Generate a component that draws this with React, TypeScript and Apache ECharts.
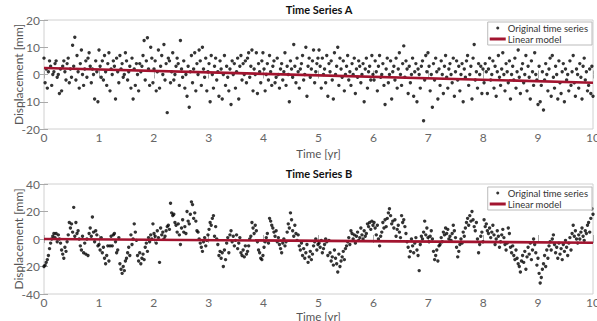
import React, { useEffect, useRef } from "react";
import * as echarts from "echarts";

// Tick values
const xTicks = [0, 1, 2, 3, 4, 5, 6, 7, 8, 9, 10];
const yTicksA = [-20, -10, 0, 10, 20];
const yTicksB = [-40, -20, 0, 20, 40];

// Time Series A displacement [mm], weekly samples over 10 years
const seriesA: number[] = [
  6, -3, 2, -5, 1, 5, 3, -4, 0, 1, 4, 5, -1, 0, -7, 2, -6, 3, 5, 1, -2, 4, 6, -3, 2, -1, 10.7, 3, 13.7, -2, 7, 1, -5, 4, 9, 0, -4, 2, 5, -1, 6, 8, 3, -3, 2, 0, -9, 5, 1, -10,
  9, 3, -1, 5, -2, 7, 1, -4, 4, 8, -6, 2, 0, 5, 3, -9, 6, 1, -3, 7, 2, 4, -1, 0, 8, 5, -2, 1, 3, -5, 6, -9, 2, -4, 4, 0, -6, 4, 1, 3, 7, 12.5, -2, 5, 13.5, 2, -4, 10, 6, -3,
  2, 5, -6, 1, 9, -5, 3, 7, 0, 11, -2, 4, -14, 6, 5, -3, 1, 8, -2, 0, 3, 6, 4, -4, 12.5, 2, -1, 5, -5, 0, -8, 3, -12, 1, 7, -3, 2, 8, -6, 4, 0, 9, 5, -4, 10, 2, -1, 6, -6, 1,
  4, -10, 7, 0, -5, 3, 6, -2, 1, -8, 5, 2, -9, 0, 7, -4, 3, -1, -6, 2, -11, 5, 0, 4, -5, 1, 6, -9, 3, 7, -2, 4, 0, 5, -3, 6, 8, -1, 3, 9, -6, 2, 0, 8, -7, 4, 1, -3, 5, 8,
  2, -6, 0, 4, -2, 7, 1, -4, 3, 5, -3, -1, 6, 0, -5, 2, 4, -2, 1, 8, -4, 3, 0, -10, 5, 2, -1, 11, 3, -3, 6, 1, -5, 2, 4, 7, -2, 0, 10, -8, 3, 6, -1, 2, 5, 9, -3, 1, 4, 6,
  9, 3, -5, 6, 0, 2, -3, 7, -8, 4, 1, 5, -2, -9, 8, 0, 3, 10, -4, 6, 2, -1, 5, -6, 0, 3, 7, -2, 1, -4, 4, 0, 6, -7, 2, -1, 5, 3, -3, 0, 4, -10, 2, 6, -5, 1, 3, -2, 7, 0,
  -2, 5, 1, -6, 3, 7, -1, 0, 4, -4, -11, 2, 6, -3, 0, 5, -9, 1, 3, -2, 6, -5, 2, 8, 0, -4, 4, 10.5, -1, 5, 2, -7, 3, -3, 0, 6, -8, 1, 4, -10, 2, 0, -5, 3, 5, -17, -2, 7, 1, 8,
  3, -6, 0, -12, 4, -2, 6, 1, -9, 2, -4, 5, 0, -7, 3, 7, -1, -5, 2, 4, 0, -3, 6, -8, 1, 5, -2, 3, -6, 0, 4, -10, 2, -1, 5, 7, -4, 0, 3, -9, 6, 11, -2, 1, -5, 4, 0, 3, -7, 2,
  -3, 4, 1, -7, 2, 6, -2, 0, 5, -5, 3, -8, 1, 7, -1, -4, 2, 8, 0, -6, 4, 1, -3, 5, -9, 0, 3, -2, 6, -5, 1, 9, -1, -7, 2, 4, -3, 0, 7, -6, 3, -1, -9, 5, 1, -4, 8, 0, -2, -11,
  3, -10, -4, 1, -13, -2, 4, 0, -6, 2, 6, -8, 7, -1, -5, 3, 0, -9, 5, -3, -7, 1, 4, -10, 2, -2, 0, -6, 5, -4, 1, 7, -3, -8, 2, 0, -5, 4, -1, -9, 3, 6, -2, 1, -6, -4, 2, -7, 3, -8,
];

// Time Series B displacement [mm]
const seriesB: number[] = [
  -20, -19, -17, -15, -12, -7, -3, 0, 2, 4, 1, 4, -2, 3, 0, -3, -8, -11, -14, -6, -9, -2, 3, 12, 8,
  11, 5, 23, 2, 12, 4, 6, 0, -5, -8, 2, -10, -3, -11, 0, -12, 4, 8, 2, 16, 5, -2, 6, 3, -5,
  -4, -8, 1, -10, -6, -14, -18, -12, -5, -16, -5, 2, -5, 3, 4, -2, -10, -8, 1, -18, -22, -25, -20, -23, -16,
  -14, -10, -6, -12, 3, -4, 0, 11, 5, -1, -12, -16, -10, -18, -14, -11, -15, -6, -3, -9, 1, -2, 3, 0, 11,
  4, 2, -3, 6, 1, -17, 8, 3, 5, 0, 2, 6, 9, 10, 7, 26, 19, 17, 18, 12, 10, 5, 11, 3, -4,
  8, 14, 5, 9, 4, 20, 13, 11, 18, 27, 25, 15, 19, 13, 6, 5, 0, -3, -6, -9, -2, 1, -5, -1, 3,
  7, 12, 10, 15, 17, 2, 9, 0, -4, -12, -9, -14, -10, -20, -8, -15, -3, 1, -10, 3, 6, -2, 2, -5, -1,
  3, -7, -3, 1, -10, -12, -8, -13, -5, -11, -9, -5, 0, 2, 12, 8, 4, 10, 6, -2, -8, -10, -14, -15, -12,
  -6, -2, 1, 4, -3, 15, 13, 10, 8, 5, 2, 6, -2, 1, -4, -7, -10, -3, 0, -5, -2, 5, 11, 8, 19,
  14, 6, 2, 10, 4, -1, 3, -5, -8, -3, -12, -7, -14, -10, -4, -17, -13, -9, -15, -11, -5, -2, 0, -8, -4,
  -3, -6, -1, -10, -7, -4, 0, -2, -12, -1, -10, -16, -13, -19, -8, -14, -18, -24, -11, -20, -16, -13, -9, -15, -7,
  -5, -2, 1, -4, 6, 4, 0, 3, -3, 2, 5, -1, 1, 8, 3, 0, 6, 2, 4, 11, 9, 12, 7, 13, 10,
  12, 8, 3, 10, 0, -5, 2, 5, 12, 8, 14, 9, 15, 19, 22, 17, 11, 13, 8, 14, 2, 7, 10, 5, 1,
  17, 12, 14, 9, 4, -2, -6, -13, -9, 0, -5, -10, -3, 1, -8, -12, -23, -4, 2, 0, 5, 13, 3, 8, 1,
  -2, 2, 6, 0, -9, -15, -12, -8, -16, -5, -4, 1, -2, 5, 3, 8, 4, 7, 0, 2, -1, 4, 10, 6, 1,
  -6, -13, -9, -4, 0, -3, 5, 2, 8, 12, 15, 10, 17, 13, 20, 14, 9, 6, 12, 0, -10, -4, 2, 5, -2,
  14, 9, 11, 6, 4, 8, 1, 5, 10, 3, -4, 0, 6, 2, -6, -2, 3, 7, 1, -4, -8, -3, 8, 4, -6,
  -10, -5, -12, -15, -8, -14, -18, -20, -24, -16, -12, -17, -9, -22, -13, -6, -11, -3, -15, -8, 0, -4, -10, -19, -14,
  -25, -32, -28, -22, -18, -12, -20, -8, -14, -5, -2, -8, 0, 3, -4, -10, -6, -14, -3, -11, -7, -15, -4, -9, -1,
  -6, -12, -3, 1, -8, 4, 10, 2, 6, 0, -3, 3, 0, 5, 8, 2, -1, 6, 4, 10, 12, 5, 15, 22, 18,
];

// Linear model end values at t = 0 and t = 10 yr
const modelTimes = [0, 10];
const modelA = [2.4, -3.0];
const modelB = [0.0, -2.7];

const SERIES_NAME = "Original time series";
const MODEL_NAME = "Linear model";
const RED = "#a2142f";
const FONT = "Lato";

function toPoints(values: number[]) {
  const n = values.length;
  return values.map((v, i) => [(i * 10) / (n - 1), v]);
}

export default function App() {
  const ref = useRef<HTMLDivElement>(null);

  useEffect(() => {
    if (!ref.current) return;
    const chart = echarts.init(ref.current, undefined, { renderer: "svg" });

    const grids = [
      { left: 44, top: 20, width: 549, height: 109 },
      { left: 44, top: 184, width: 549, height: 110 },
    ];
    const yMins = [yTicksA[0], yTicksB[0]];
    const yMaxs = [yTicksA[yTicksA.length - 1], yTicksB[yTicksB.length - 1]];
    const yInts = [yTicksA[1] - yTicksA[0], yTicksB[1] - yTicksB[0]];

    const xAxes: any[] = [];
    const yAxes: any[] = [];
    grids.forEach((_, g) => {
      xAxes.push({
        type: "value",
        gridIndex: g,
        min: xTicks[0],
        max: xTicks[xTicks.length - 1],
        interval: 1,
        position: "bottom",
        name: "Time [yr]",
        nameLocation: "middle",
        nameMoveOverlap: false,
        nameGap: g === 0 ? 18 : 16,
        nameTextStyle: { color: "#555", fontSize: 11.5, fontFamily: FONT },
        axisLine: { show: false },
        axisTick: { inside: true, length: 4, lineStyle: { color: "#aaa" } },
        axisLabel: { color: "#666", fontSize: 12, fontFamily: FONT, margin: 2 },
        splitLine: { show: false },
      });
      xAxes.push({
        type: "value",
        gridIndex: g,
        min: xTicks[0],
        max: xTicks[xTicks.length - 1],
        interval: 1,
        position: "top",
        axisLine: { show: false },
        axisTick: { inside: true, length: 4, lineStyle: { color: "#aaa" } },
        axisLabel: { show: false },
        splitLine: { show: false },
      });
      yAxes.push({
        type: "value",
        gridIndex: g,
        min: yMins[g],
        max: yMaxs[g],
        interval: yInts[g],
        position: "left",
        name: "Displacement [mm]",
        nameLocation: "middle",
        nameMoveOverlap: false,
        nameGap: 20,
        nameTextStyle: { color: "#555", fontSize: 12, fontFamily: FONT },
        axisLine: { show: false },
        axisTick: { inside: true, length: 4, lineStyle: { color: "#aaa" } },
        axisLabel: { color: "#666", fontSize: 12, fontFamily: FONT, margin: 4 },
        splitLine: { show: false },
      });
      yAxes.push({
        type: "value",
        gridIndex: g,
        min: yMins[g],
        max: yMaxs[g],
        interval: yInts[g],
        position: "right",
        axisLine: { show: false },
        axisTick: { inside: true, length: 4, lineStyle: { color: "#aaa" } },
        axisLabel: { show: false },
        splitLine: { show: false },
      });
    });

    const scatterStyle = (data: number[][], g: number) => ({
      type: "scatter",
      name: SERIES_NAME,
      xAxisIndex: g * 2,
      yAxisIndex: g * 2,
      data,
      symbol: "circle",
      symbolSize: 3.4,
      itemStyle: { color: "#000" },
      z: 2,
    });
    const lineStyle = (vals: number[], g: number) => ({
      type: "line",
      name: MODEL_NAME,
      xAxisIndex: g * 2,
      yAxisIndex: g * 2,
      data: modelTimes.map((t, i) => [t, vals[i]]),
      symbol: "none",
      lineStyle: { color: RED, width: 2.6 },
      itemStyle: { color: RED },
      z: 3,
    });

    const legendBase = {
      orient: "vertical",
      right: 5,
      backgroundColor: "#fff",
      borderColor: "#bbb",
      borderWidth: 1,
      borderRadius: 0,
      padding: [1, 4, 1, 2],
      itemGap: 1,
      itemWidth: 16,
      itemHeight: 3,
      textStyle: { color: "#333", fontSize: 9.5, fontFamily: FONT, padding: [0, 0, 0, -3], lineHeight: 10 },
      selectedMode: false,
      data: [
        { name: SERIES_NAME, icon: "circle" },
        { name: MODEL_NAME, icon: "rect" },
      ],
    };

    chart.setOption({
      animation: false,
      backgroundColor: "#fff",
      title: [
        {
          text: "Time Series A",
          left: 319,
          top: 4,
          padding: 0,
          textAlign: "center",
          textStyle: { fontSize: 11, fontWeight: "bold", color: "#111", fontFamily: FONT },
        },
        {
          text: "Time Series B",
          left: 319,
          top: 168,
          padding: 0,
          textAlign: "center",
          textStyle: { fontSize: 11, fontWeight: "bold", color: "#111", fontFamily: FONT },
        },
      ],
      legend: [
        { ...legendBase, top: 22 },
        { ...legendBase, top: 187 },
      ],
      grid: grids.map((g) => ({
        ...g,
        outerBoundsMode: "none",
        containLabel: false,
        show: true,
        borderColor: "#d0d0d0",
        borderWidth: 1,
        backgroundColor: "#fff",
      })),
      xAxis: xAxes,
      yAxis: yAxes,
      series: [
        scatterStyle(toPoints(seriesA), 0),
        lineStyle(modelA, 0),
        scatterStyle(toPoints(seriesB), 1),
        lineStyle(modelB, 1),
      ],
    });

    return () => chart.dispose();
  }, []);

  return (
    <div
      ref={ref}
      style={{ position: "fixed", left: 0, top: 0, width: 597, height: 321 }}
    />
  );
}
